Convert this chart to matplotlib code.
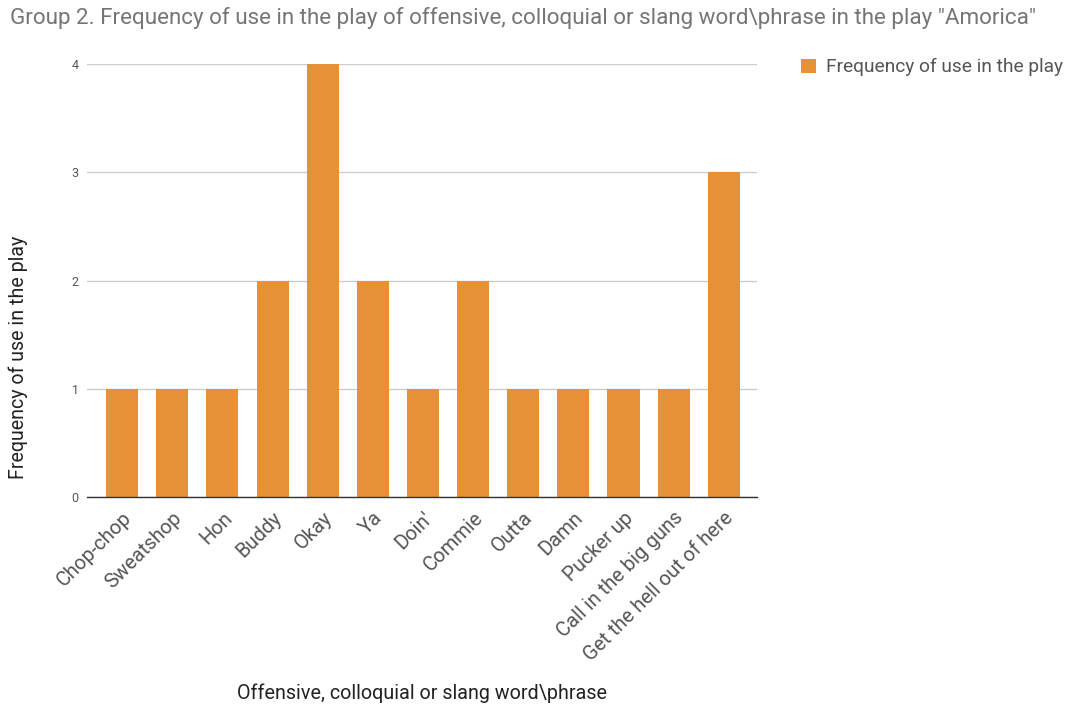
import numpy as np
import matplotlib.pyplot as plt

plt.rcParams['font.family'] = ['Roboto', 'DejaVu Sans']

words = ["Chop-chop", "Sweatshop", "Hon", "Buddy", "Okay", "Ya", "Doin'",
         "Commie", "Outta", "Damn", "Pucker up", "Call in the big guns",
         "Get the hell out of here"]
counts = [1, 1, 1, 2, 4, 2, 1, 2, 1, 1, 1, 1, 3]
yticks = [0, 1, 2, 3, 4]

fig = plt.figure(figsize=(10.77, 7.07), dpi=100)
ax = fig.add_axes([0.0808, 0.297, 0.622, 0.6125])

x = np.arange(len(words))
ax.bar(x, counts, width=0.64, color="#E69138", zorder=3,
       label="Frequency of use in the play")

ax.set_xlim(-0.7, 12.66)
ax.set_ylim(0, 4)
ax.set_yticks(yticks)
ax.set_yticklabels([str(t) for t in yticks], fontsize=9, color="#555555")
ax.grid(axis="y", color="#cccccc", linewidth=1, zorder=0)
ax.set_xticks(x)
ax.set_xticklabels(words, rotation=45, ha="right", rotation_mode="anchor",
                   fontsize=14.5, color="#555555")
ax.tick_params(axis="both", length=0, pad=6)
ax.tick_params(axis="x", pad=8)

for s in ["top", "right", "left"]:
    ax.spines[s].set_visible(False)
ax.spines["bottom"].set_color("#333333")
ax.spines["bottom"].set_linewidth(1)
ax.spines["bottom"].set_zorder(4)

# axis titles placed in figure coords
fig.text(18 / 1077, 1 - 357 / 707, "Frequency of use in the play", rotation=90,
         fontsize=14.1, color="#222222", ha="center", va="center")
fig.text(422 / 1077, 1 - 693 / 707, "Offensive, colloquial or slang word\\phrase",
         fontsize=14.2, color="#222222", ha="center", va="center")

fig.text(0.009, 0.974, 'Group 2. Frequency of use in the play of offensive, colloquial or slang word\\phrase in the play "Amorica"',
         fontsize=16.1, color="#757575", ha="left", va="center")

leg = fig.legend(loc="upper left", bbox_to_anchor=(0.728, 0.942), frameon=False,
                 fontsize=13.8, handlelength=0.75, handleheight=0.75,
                 handletextpad=0.55, labelcolor="#555555")

fig.savefig("out.png", dpi=100)
